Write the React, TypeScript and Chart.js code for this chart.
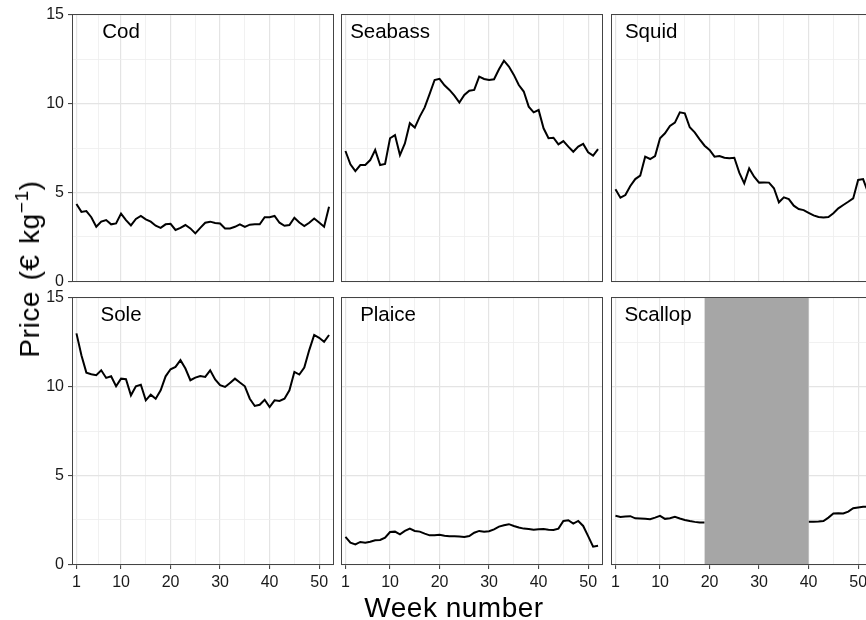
import React, { useEffect, useRef } from 'react';
import { Chart, registerables } from 'chart.js';

Chart.register(...registerables);

const weeks = [1, 2, 3, 4, 5, 6, 7, 8, 9, 10, 11, 12, 13, 14, 15, 16, 17, 18, 19, 20, 21, 22, 23, 24, 25, 26, 27, 28, 29, 30, 31, 32, 33, 34, 35, 36, 37, 38, 39, 40, 41, 42, 43, 44, 45, 46, 47, 48, 49, 50, 51, 52];

const codPrice = [4.34, 3.9, 3.95, 3.6, 3.06, 3.35, 3.44, 3.2, 3.25, 3.8, 3.44, 3.14, 3.5, 3.67, 3.48, 3.35, 3.12, 3.0, 3.2, 3.23, 2.88, 3.0, 3.16, 2.97, 2.69, 3.0, 3.29, 3.35, 3.27, 3.25, 2.97, 2.97, 3.06, 3.2, 3.06, 3.18, 3.2, 3.2, 3.6, 3.6, 3.67, 3.29, 3.12, 3.16, 3.57, 3.3, 3.1, 3.29, 3.53, 3.3, 3.06, 4.19];
const seabassPrice = [7.33, 6.58, 6.2, 6.54, 6.54, 6.82, 7.39, 6.54, 6.6, 8.05, 8.23, 7.1, 7.76, 8.9, 8.65, 9.27, 9.79, 10.55, 11.33, 11.4, 11.03, 10.77, 10.45, 10.06, 10.49, 10.73, 10.77, 11.52, 11.39, 11.33, 11.37, 11.94, 12.42, 12.09, 11.62, 11.05, 10.68, 9.83, 9.51, 9.64, 8.61, 8.05, 8.08, 7.7, 7.89, 7.58, 7.29, 7.58, 7.73, 7.26, 7.07, 7.44];
const squidPrice = [5.17, 4.7, 4.85, 5.36, 5.75, 5.94, 7.01, 6.88, 7.05, 8.05, 8.33, 8.74, 8.93, 9.51, 9.45, 8.67, 8.38, 7.99, 7.63, 7.39, 7.01, 7.05, 6.95, 6.92, 6.95, 6.11, 5.51, 6.35, 5.88, 5.55, 5.56, 5.55, 5.23, 4.44, 4.72, 4.62, 4.25, 4.06, 4.0, 3.85, 3.7, 3.61, 3.59, 3.61, 3.82, 4.1, 4.29, 4.47, 4.66, 5.7, 5.75, 5.0];
const solePrice = [13.0, 11.77, 10.79, 10.7, 10.64, 10.92, 10.49, 10.58, 10.02, 10.45, 10.42, 9.51, 10.02, 10.11, 9.23, 9.55, 9.32, 9.79, 10.58, 10.98, 11.11, 11.49, 11.02, 10.36, 10.51, 10.6, 10.55, 10.92, 10.4, 10.08, 9.98, 10.21, 10.45, 10.23, 10.02, 9.32, 8.91, 8.98, 9.26, 8.85, 9.23, 9.19, 9.32, 9.79, 10.83, 10.68, 11.08, 12.06, 12.91, 12.75, 12.53, 12.91];
const plaicePrice = [1.53, 1.21, 1.11, 1.25, 1.21, 1.26, 1.34, 1.36, 1.49, 1.81, 1.83, 1.68, 1.87, 2.0, 1.87, 1.83, 1.72, 1.62, 1.62, 1.66, 1.6, 1.57, 1.57, 1.55, 1.53, 1.58, 1.77, 1.87, 1.83, 1.85, 1.96, 2.11, 2.19, 2.25, 2.15, 2.06, 2.0, 1.98, 1.94, 1.96, 1.98, 1.94, 1.92, 2.0, 2.43, 2.47, 2.28, 2.43, 2.15, 1.58, 0.98, 1.04];
const scallopPrice = [2.72, 2.66, 2.68, 2.7, 2.58, 2.57, 2.55, 2.53, 2.62, 2.72, 2.55, 2.58, 2.66, 2.57, 2.49, 2.43, 2.38, 2.34, 2.34, null, null, null, null, null, null, null, null, null, null, null, null, null, null, null, null, null, null, null, null, 2.38, 2.38, 2.4, 2.43, 2.62, 2.85, 2.87, 2.85, 2.96, 3.15, 3.19, 3.23, 3.23];

const speciesNames = ['Cod', 'Seabass', 'Squid', 'Sole', 'Plaice', 'Scallop'];
const speciesSeries = [codPrice, seabassPrice, squidPrice, solePrice, plaicePrice, scallopPrice];

const xTickLabels = [1, 10, 20, 30, 40, 50];
const xMinorGrid = [5.5, 15, 25, 35, 45];
const yTickLabels = [0, 5, 10, 15];
const yMinorGrid = [2.5, 7.5, 12.5];

// Scallop closed season (shaded)
const shadedPanel = 'Scallop';
const shadeStartWeek = 19;
const shadeEndWeek = 40;

// panel label anchors (data coordinates)
const labelWeeks = [10, 10, 8.2, 10, 9.6, 9.6];
const labelPrice = 14;

const FONT = '"Liberation Sans", Arial, Helvetica, sans-serif';
const CANVAS_W = 880;
const CANVAS_H = 620;
const colLeft = [72, 341, 611];
const panelW = 262;
const rowTop = [14, 297];
const panelH = 268;
const yAxisW = 72;
const xAxisH = 34;

const panelPlugin = {
  id: 'panelDeco',
  afterDatasetsDraw(chart: any, _args: any, opts: any) {
    const { ctx, chartArea, scales } = chart;
    const { left, top, right, bottom } = chartArea;
    ctx.save();
    if (opts.shade) {
      const x0 = scales.x.getPixelForValue(shadeStartWeek);
      const x1 = scales.x.getPixelForValue(shadeEndWeek);
      ctx.fillStyle = '#A6A6A6';
      ctx.fillRect(x0, top, x1 - x0, bottom - top);
    }
    ctx.strokeStyle = '#444444';
    ctx.lineWidth = 1;
    ctx.strokeRect(Math.round(left) + 0.5, Math.round(top) + 0.5, Math.round(right - left) - 1, Math.round(bottom - top) - 1);
    ctx.fillStyle = '#000000';
    ctx.font = `20.5px ${FONT}`;
    ctx.textAlign = 'center';
    ctx.textBaseline = 'middle';
    ctx.fillText(opts.label, scales.x.getPixelForValue(opts.labelWeek), scales.y.getPixelForValue(labelPrice));
    ctx.restore();
  },
};

function buildConfig(i: number): any {
  const row = Math.floor(i / 3);
  const col = i % 3;
  const showY = col === 0;
  const showX = row === 1;
  const values = speciesSeries[i];
  const padLeft = showY ? colLeft[0] - yAxisW : colLeft[col];
  const padRight = CANVAS_W - colLeft[col] - panelW;
  const padTop = rowTop[row];
  const padBottom = CANVAS_H - rowTop[row] - panelH - (showX ? xAxisH : 0);
  const xAll = [...xTickLabels, ...xMinorGrid].sort((a, b) => a - b);
  const yAll = [...yTickLabels, ...yMinorGrid].sort((a, b) => a - b);
  const isMajorX = (v: number) => xTickLabels.includes(v);
  const isMajorY = (v: number) => yTickLabels.includes(v);
  return {
    type: 'line',
    data: {
      datasets: [
        {
          data: weeks.map((w, k) => ({ x: w, y: values[k] })),
          borderColor: '#000000',
          borderWidth: 2,
          pointRadius: 0,
          tension: 0,
          fill: false,
          spanGaps: false,
        },
      ],
    },
    options: {
      responsive: false,
      animation: false,
      events: [],
      layout: { padding: { left: padLeft, right: padRight, top: padTop, bottom: padBottom } },
      plugins: {
        legend: { display: false },
        tooltip: { enabled: false },
        panelDeco: { label: speciesNames[i], labelWeek: labelWeeks[i], shade: speciesNames[i] === shadedPanel },
      },
      scales: {
        x: {
          type: 'linear',
          min: 0.1,
          max: 53,
          afterBuildTicks: (s: any) => {
            s.ticks = xAll.map((v) => ({ value: v }));
          },
          afterFit: (s: any) => {
            s.height = showX ? xAxisH : 0;
            s.paddingLeft = 0;
            s.paddingRight = 0;
          },
          ticks: {
            display: showX,
            autoSkip: false,
            maxRotation: 0,
            padding: 4,
            color: '#1a1a1a',
            font: { size: 16, family: FONT },
            callback: (v: number) => (isMajorX(v) ? String(v) : ''),
          },
          grid: {
            color: (c: any) => (c.tick && isMajorX(c.tick.value) ? '#E4E4E4' : '#EDEDED'),
            lineWidth: (c: any) => (c.tick && isMajorX(c.tick.value) ? 1.2 : 0.8),
            drawTicks: showX,
            tickLength: 4,
            tickColor: (c: any) => (c.tick && isMajorX(c.tick.value) ? '#333333' : 'rgba(0,0,0,0)'),
            tickWidth: 1,
          },
          border: { display: false },
        },
        y: {
          type: 'linear',
          min: -0.05,
          max: 15.05,
          afterBuildTicks: (s: any) => {
            s.ticks = yAll.map((v) => ({ value: v }));
          },
          afterFit: (s: any) => {
            s.width = showY ? yAxisW : 0;
            s.paddingTop = 0;
            s.paddingBottom = 0;
          },
          ticks: {
            display: showY,
            autoSkip: false,
            padding: 4,
            color: '#1a1a1a',
            font: { size: 16, family: FONT },
            callback: (v: number) => (isMajorY(v) ? String(v) : ''),
          },
          grid: {
            color: (c: any) => (c.tick && isMajorY(c.tick.value) ? '#E4E4E4' : '#EDEDED'),
            lineWidth: (c: any) => (c.tick && isMajorY(c.tick.value) ? 1.2 : 0.8),
            drawTicks: showY,
            tickLength: 4,
            tickColor: (c: any) => (c.tick && isMajorY(c.tick.value) ? '#333333' : 'rgba(0,0,0,0)'),
            tickWidth: 1,
          },
          border: { display: false },
        },
      },
    },
    plugins: [panelPlugin],
  };
}

export default function App() {
  const refs = useRef<(HTMLCanvasElement | null)[]>([]);
  useEffect(() => {
    const charts = speciesNames.map((_, i) => new Chart(refs.current[i] as HTMLCanvasElement, buildConfig(i)));
    return () => charts.forEach((c) => c.destroy());
  }, []);
  return (
    <div
      style={{
        position: 'fixed',
        left: 0,
        top: 0,
        width: 866,
        height: 620,
        overflow: 'hidden',
        background: '#ffffff',
        fontFamily: FONT,
      }}
    >
      {speciesNames.map((name, i) => (
        <canvas
          key={name}
          ref={(el) => {
            refs.current[i] = el;
          }}
          width={CANVAS_W}
          height={CANVAS_H}
          style={{ position: 'absolute', left: 0, top: 0, width: CANVAS_W, height: CANVAS_H }}
        />
      ))}
      <div
        style={{
          position: 'absolute',
          left: 30,
          top: 269,
          transform: 'translate(-50%, -50%) rotate(-90deg)',
          whiteSpace: 'nowrap',
          fontSize: 28,
          letterSpacing: '0.6px',
          wordSpacing: '2px',
          color: '#000',
          lineHeight: 1,
        }}
      >
        Price (€ kg<sup style={{ fontSize: '68%', lineHeight: 0, verticalAlign: '0.6em' }}>−1</sup>)
      </div>
      <div
        style={{
          position: 'absolute',
          left: 454,
          top: 608,
          transform: 'translate(-50%, -50%)',
          whiteSpace: 'nowrap',
          fontSize: 28,
          letterSpacing: '0.5px',
          color: '#000',
          lineHeight: 1,
        }}
      >
        Week number
      </div>
    </div>
  );
}
